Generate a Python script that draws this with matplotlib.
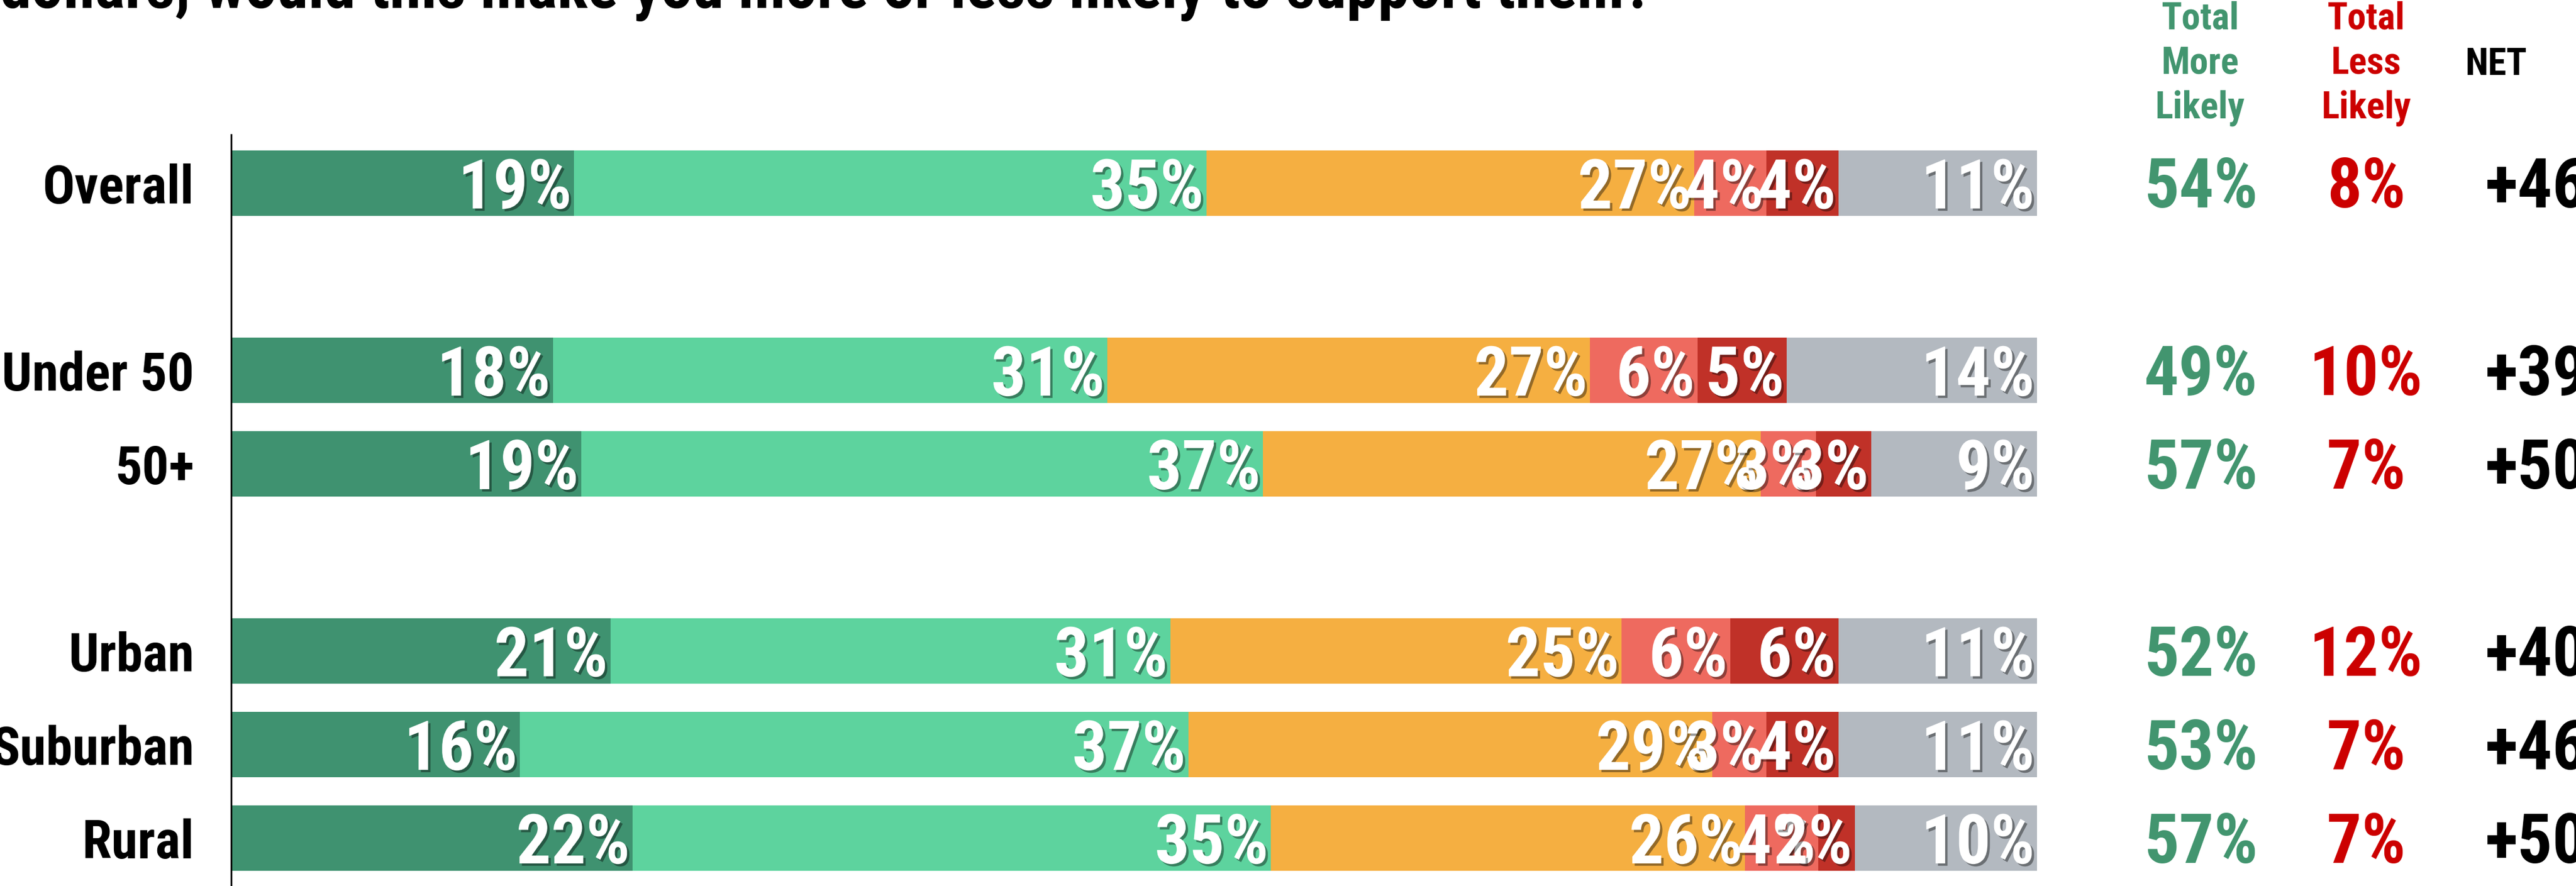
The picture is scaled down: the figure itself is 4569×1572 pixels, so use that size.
import matplotlib.pyplot as plt
import matplotlib.patheffects as pe
import matplotlib.transforms as mtransforms
from matplotlib import font_manager
import numpy as np

# pick a narrow bold face if one is installed
installed = {f.name for f in font_manager.fontManager.ttflist}
face = 'DejaVu Sans'
for name in ['Roboto Condensed', 'Liberation Sans Narrow', 'Open Sans Condensed', 'Noto Sans Condensed']:
    if name in installed:
        face = name
        break

plt.rcParams['font.family'] = [face, 'DejaVu Sans']
plt.rcParams['font.weight'] = 'bold'
plt.rcParams['font.stretch'] = 'condensed'

groups = ['Overall', 'Under 50', '50+', 'Urban', 'Suburban', 'Rural']
much_more = [19, 18, 19, 21, 16, 22]
somewhat_more = [35, 31, 37, 31, 37, 35]
no_difference = [27, 27, 27, 25, 29, 26]
somewhat_less = [4, 6, 3, 6, 3, 4]
much_less = [4, 5, 3, 6, 4, 2]
not_sure = [11, 14, 9, 11, 11, 10]
total_more = [54, 49, 57, 52, 53, 57]
total_less = [8, 10, 7, 12, 7, 7]
net = [46, 39, 50, 40, 46, 50]

title = 'dollars, would this make you more or less likely to support them?'

series = [much_more, somewhat_more, no_difference, somewhat_less, much_less, not_sure]
colors = ['#3F9270', '#5DD39E', '#F5AF41', '#EE6A5F', '#C03128', '#B3B9C0']

# rows 1 and 4 stay empty to separate the groups
slots = np.array([0, 2, 3, 5, 6, 7])

fig = plt.figure(figsize=(45.69, 15.72), dpi=100)
ax = fig.add_axes([0.0897, 0.0, 0.7011, 0.848])

data = np.array(series, dtype=float)
shares = data / data.sum(axis=0) * 100
lefts = np.zeros(len(groups))

shadow = [pe.SimplePatchShadow(offset=(3, -3), shadow_rgbFace='black', alpha=0.4), pe.Normal()]

for vals, share, col in zip(data, shares, colors):
    ax.barh(slots, share, left=lefts, height=0.7, color=col, linewidth=0)
    for y, v, l, w in zip(slots, vals, lefts, share):
        ax.annotate(f'{int(v)}%', xy=(l + w, y), xytext=(-3, -8), textcoords='offset points',
                    ha='right', va='center', fontsize=88, color='white', fontweight='bold',
                    path_effects=shadow)
    lefts += share

ax.set_xlim(0, 100)
ax.set_ylim(7.51, -0.52)
ax.set_yticks(slots)
ax.set_yticklabels(groups, fontsize=68, fontweight='bold')
ax.tick_params(axis='y', length=0, pad=47)
ax.set_xticks([])
for side in ['top', 'right', 'bottom']:
    ax.spines[side].set_visible(False)
ax.spines['left'].set_linewidth(2.2)
ax.spines['left'].set_color('black')

# summary columns to the right of the bars
trans = mtransforms.blended_transform_factory(fig.transFigure, ax.transData)
for y, m, l, n in zip(slots, total_more, total_less, net):
    ax.annotate(f'{m}%', xy=(0.8545, y), xycoords=trans, xytext=(0, -7), textcoords='offset points',
                ha='center', va='center', fontsize=88, color='#42956F', fontweight='bold')
    ax.annotate(f'{l}%', xy=(0.9185, y), xycoords=trans, xytext=(0, -7), textcoords='offset points',
                ha='center', va='center', fontsize=88, color='#CC0000', fontweight='bold')
    ax.annotate(f'+{n}', xy=(0.9645, y), xycoords=trans, xytext=(0, -7), textcoords='offset points',
                ha='left', va='center', fontsize=88, color='black', fontweight='bold')

fig.text(0.854, 0.928, 'Total\nMore\nLikely', ha='center', va='center', fontsize=48,
         color='#42956F', fontweight='bold', linespacing=1.3)
fig.text(0.9185, 0.928, 'Total\nLess\nLikely', ha='center', va='center', fontsize=48,
         color='#CC0000', fontweight='bold', linespacing=1.3)
fig.text(0.969, 0.927, 'NET', ha='center', va='center', fontsize=48,
         color='black', fontweight='bold')

fig.text(0.0, 0.991, title, ha='left', va='baseline', fontsize=81,
         color='black', fontweight='bold')

fig.savefig('out.png', dpi=100)
